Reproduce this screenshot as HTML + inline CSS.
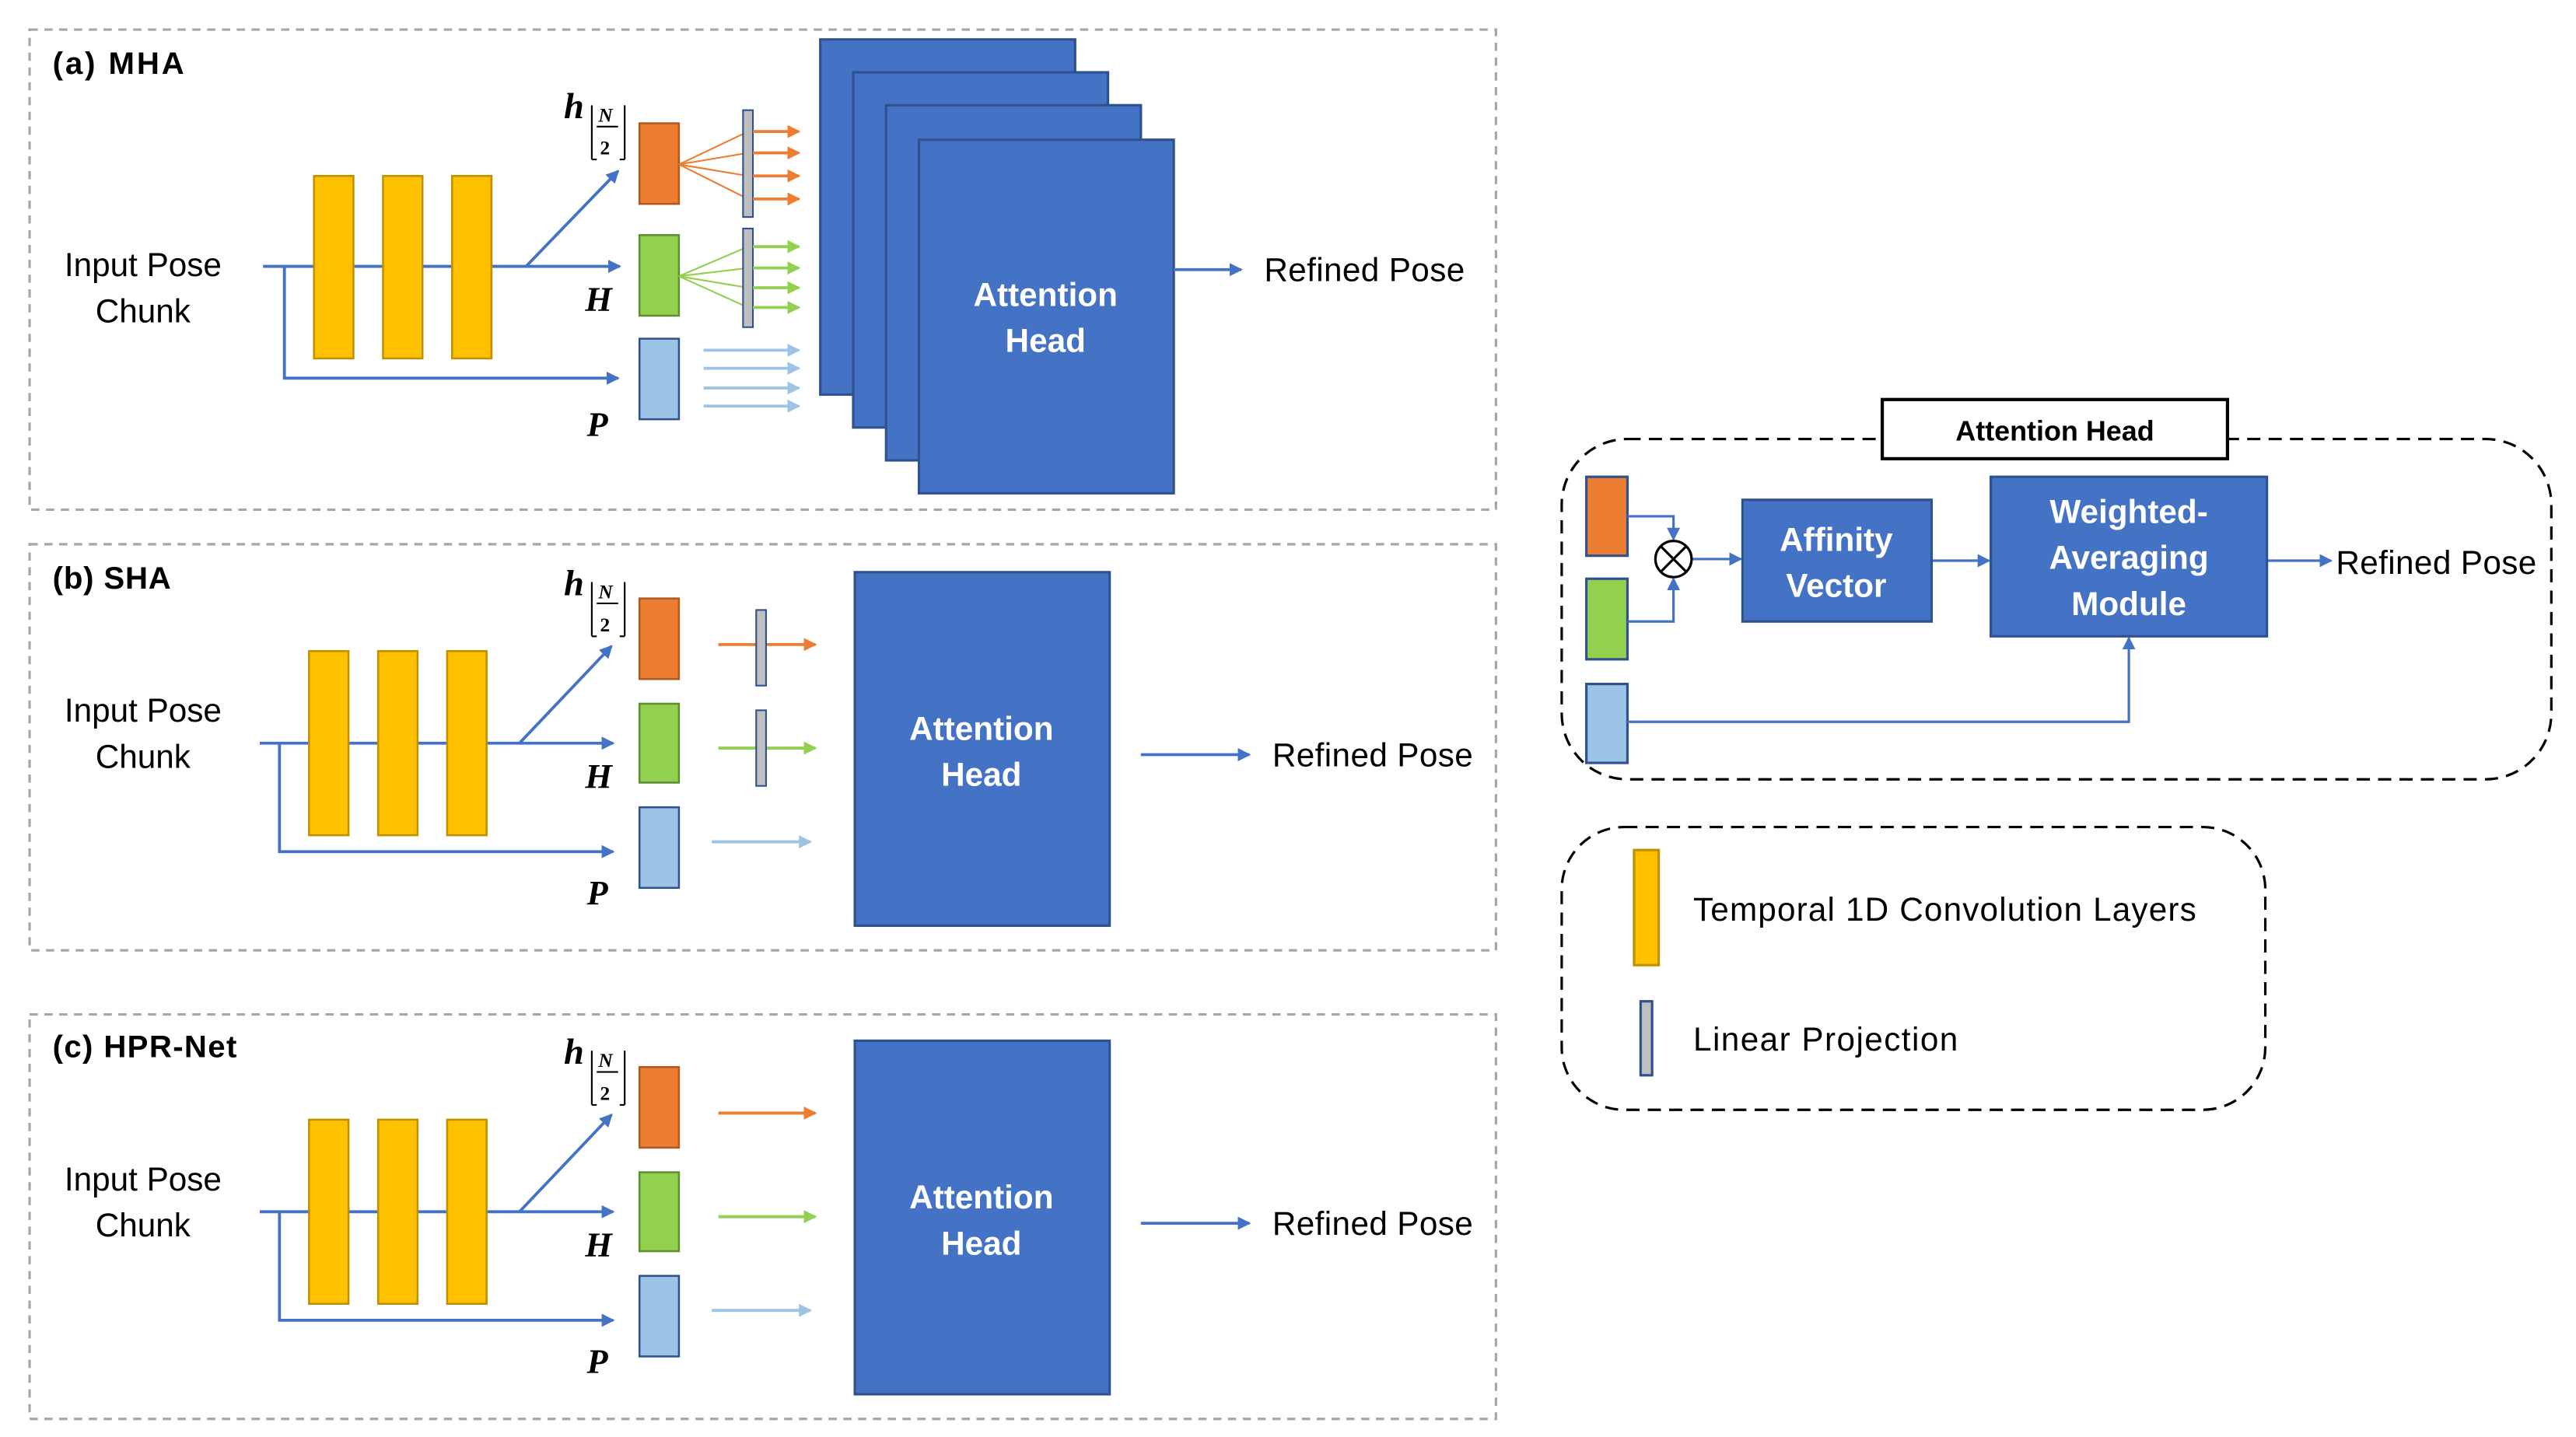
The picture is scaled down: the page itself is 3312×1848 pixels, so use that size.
<!DOCTYPE html>
<html><head><meta charset="utf-8"><style>
html,body{margin:0;padding:0;background:#fff;}
svg{display:block;}
text{font-family:"Liberation Sans",sans-serif;}
text.s{font-family:"Liberation Serif",serif;font-style:italic;font-weight:bold;}
</style></head><body>
<svg width="3312" height="1848" viewBox="0 0 1567 874" preserveAspectRatio="none" xmlns="http://www.w3.org/2000/svg">
<defs>
<marker id="ab" markerWidth="8" markerHeight="8" refX="7" refY="4" orient="auto" markerUnits="userSpaceOnUse"><path d="M0,0 L8,4 L0,8 z" fill="#4472C4"/></marker>
<marker id="ao" markerWidth="8" markerHeight="8" refX="7" refY="4" orient="auto" markerUnits="userSpaceOnUse"><path d="M0,0 L8,4 L0,8 z" fill="#ED7D31"/></marker>
<marker id="ag" markerWidth="8" markerHeight="8" refX="7" refY="4" orient="auto" markerUnits="userSpaceOnUse"><path d="M0,0 L8,4 L0,8 z" fill="#92D050"/></marker>
<marker id="al" markerWidth="8" markerHeight="8" refX="7" refY="4" orient="auto" markerUnits="userSpaceOnUse"><path d="M0,0 L8,4 L0,8 z" fill="#9DC3E6"/></marker>
</defs>

<g fill="none" stroke="#A6A6A6" stroke-width="1.5" stroke-dasharray="5,4">
<rect x="18" y="18" width="892" height="292"/>
<rect x="18" y="331" width="892" height="247"/>
<rect x="18" y="617" width="892" height="246"/>
</g>

<text x="32" y="45" font-size="19" font-weight="bold" textLength="80">(a) MHA</text>
<text x="87" y="168" font-size="20" text-anchor="middle">Input Pose</text>
<text x="87" y="196" font-size="20" text-anchor="middle">Chunk</text>
<g stroke="#4472C4" stroke-width="1.8" fill="none">
<line x1="160" y1="162" x2="377" y2="162" marker-end="url(#ab)"/>
<line x1="320" y1="162" x2="376" y2="104" marker-end="url(#ab)"/>
<polyline points="173,162 173,230 376,230" marker-end="url(#ab)"/>
</g>
<g fill="#FFC000" stroke="#BF9000" stroke-width="1.2">
<rect x="191" y="107" width="24" height="111"/><rect x="233" y="107" width="24" height="111"/><rect x="275" y="107" width="24" height="111"/>
</g>
<rect x="389" y="75" width="24" height="49" fill="#ED7D31" stroke="#AE5A21" stroke-width="1.2"/>
<rect x="389" y="143" width="24" height="49" fill="#92D050" stroke="#5E8E30" stroke-width="1.2"/>
<rect x="389" y="206" width="24" height="49" fill="#9DC3E6" stroke="#2F528F" stroke-width="1.2"/>
<g stroke="#ED7D31" stroke-width="1"><line x1="413" y1="100" x2="455" y2="80"/><line x1="413" y1="100" x2="455" y2="93"/><line x1="413" y1="100" x2="455" y2="107"/><line x1="413" y1="100" x2="455" y2="121"/></g>
<g stroke="#92D050" stroke-width="1"><line x1="413" y1="168" x2="455" y2="150"/><line x1="413" y1="168" x2="455" y2="163"/><line x1="413" y1="168" x2="455" y2="175"/><line x1="413" y1="168" x2="455" y2="187"/></g>
<rect x="452" y="67" width="6" height="65" fill="#BFBFBF" stroke="#2F528F" stroke-width="1"/>
<rect x="452" y="139" width="6" height="60" fill="#BFBFBF" stroke="#2F528F" stroke-width="1"/>
<g stroke="#ED7D31" stroke-width="1.8"><line x1="458" y1="80" x2="486" y2="80" marker-end="url(#ao)"/><line x1="458" y1="93" x2="486" y2="93" marker-end="url(#ao)"/><line x1="458" y1="107" x2="486" y2="107" marker-end="url(#ao)"/><line x1="458" y1="121" x2="486" y2="121" marker-end="url(#ao)"/></g>
<g stroke="#92D050" stroke-width="1.8"><line x1="458" y1="150" x2="486" y2="150" marker-end="url(#ag)"/><line x1="458" y1="163" x2="486" y2="163" marker-end="url(#ag)"/><line x1="458" y1="175" x2="486" y2="175" marker-end="url(#ag)"/><line x1="458" y1="187" x2="486" y2="187" marker-end="url(#ag)"/></g>
<g stroke="#9DC3E6" stroke-width="1.8"><line x1="428" y1="213" x2="486" y2="213" marker-end="url(#al)"/><line x1="428" y1="224" x2="486" y2="224" marker-end="url(#al)"/><line x1="428" y1="236" x2="486" y2="236" marker-end="url(#al)"/><line x1="428" y1="247" x2="486" y2="247" marker-end="url(#al)"/></g>
<g fill="#4472C4" stroke="#2F528F" stroke-width="1.5">
<rect x="499" y="24" width="155" height="216"/><rect x="519" y="44" width="155" height="216"/><rect x="539" y="64" width="155" height="216"/><rect x="559" y="85" width="155" height="215"/>
</g>
<text x="636" y="186" font-size="20" font-weight="bold" fill="#fff" text-anchor="middle">Attention</text>
<text x="636" y="214" font-size="20" font-weight="bold" fill="#fff" text-anchor="middle">Head</text>
<line x1="714" y1="164" x2="755" y2="164" stroke="#4472C4" stroke-width="1.8" marker-end="url(#ab)"/>
<text x="769" y="171" font-size="20" textLength="122">Refined Pose</text>
<text class="s" x="343" y="72" font-size="22">h</text>
<text class="s" x="364" y="74" font-size="12">N</text>
<line x1="363" y1="77" x2="376" y2="77" stroke="#000" stroke-width="1"/>
<text class="s" x="365" y="94" font-size="12" style="font-style:normal">2</text>
<path d="M360,64 V97 M380,64 V97 M360,97 h3 M380,97 h-3" stroke="#000" stroke-width="1" fill="none"/>
<text class="s" x="356" y="189" font-size="21">H</text>
<text class="s" x="357" y="265" font-size="21">P</text>

<text x="32" y="358" font-size="19" font-weight="bold" textLength="72">(b) SHA</text>
<text x="32" y="643" font-size="19" font-weight="bold" textLength="112">(c) HPR-Net</text>
<g id="pb">
<text x="87" y="439" font-size="20" text-anchor="middle">Input Pose</text>
<text x="87" y="467" font-size="20" text-anchor="middle">Chunk</text>
<g stroke="#4472C4" stroke-width="1.8" fill="none">
<line x1="158" y1="452" x2="373" y2="452" marker-end="url(#ab)"/>
<line x1="316" y1="452" x2="372" y2="393" marker-end="url(#ab)"/>
<polyline points="170,452 170,518 373,518" marker-end="url(#ab)"/>
</g>
<g fill="#FFC000" stroke="#BF9000" stroke-width="1.2">
<rect x="188" y="396" width="24" height="112"/><rect x="230" y="396" width="24" height="112"/><rect x="272" y="396" width="24" height="112"/>
</g>
<rect x="389" y="364" width="24" height="49" fill="#ED7D31" stroke="#AE5A21" stroke-width="1.2"/>
<rect x="389" y="428" width="24" height="48" fill="#92D050" stroke="#5E8E30" stroke-width="1.2"/>
<rect x="389" y="491" width="24" height="49" fill="#9DC3E6" stroke="#2F528F" stroke-width="1.2"/>
<line x1="433" y1="512" x2="493" y2="512" stroke="#9DC3E6" stroke-width="1.8" marker-end="url(#al)"/>
<rect x="520" y="348" width="155" height="215" fill="#4472C4" stroke="#2F528F" stroke-width="1.5"/>
<text x="597" y="450" font-size="20" font-weight="bold" fill="#fff" text-anchor="middle">Attention</text>
<text x="597" y="478" font-size="20" font-weight="bold" fill="#fff" text-anchor="middle">Head</text>
<line x1="694" y1="459" x2="760" y2="459" stroke="#4472C4" stroke-width="1.8" marker-end="url(#ab)"/>
<text x="774" y="466" font-size="20" textLength="122">Refined Pose</text>
<text class="s" x="343" y="362" font-size="22">h</text>
<text class="s" x="364" y="364" font-size="12">N</text>
<line x1="363" y1="367" x2="376" y2="367" stroke="#000" stroke-width="1"/>
<text class="s" x="365" y="384" font-size="12" style="font-style:normal">2</text>
<path d="M360,354 V387 M380,354 V387 M360,387 h3 M380,387 h-3" stroke="#000" stroke-width="1" fill="none"/>
<text class="s" x="356" y="479" font-size="21">H</text>
<text class="s" x="357" y="550" font-size="21">P</text>
</g>
<line x1="437" y1="392" x2="496" y2="392" stroke="#ED7D31" stroke-width="1.8" marker-end="url(#ao)"/>
<line x1="437" y1="455" x2="496" y2="455" stroke="#92D050" stroke-width="1.8" marker-end="url(#ag)"/>
<rect x="460" y="371" width="6" height="46" fill="#BFBFBF" stroke="#2F528F" stroke-width="1"/>
<rect x="460" y="432" width="6" height="46" fill="#BFBFBF" stroke="#2F528F" stroke-width="1"/>
<use href="#pb" transform="translate(0,285)"/>
<line x1="437" y1="677" x2="496" y2="677" stroke="#ED7D31" stroke-width="1.8" marker-end="url(#ao)"/>
<line x1="437" y1="740" x2="496" y2="740" stroke="#92D050" stroke-width="1.8" marker-end="url(#ag)"/>

<rect x="950" y="267" width="602" height="207" rx="40" fill="none" stroke="#000" stroke-width="1.5" stroke-dasharray="8,5"/>
<rect x="1145" y="243" width="210" height="36" fill="#fff" stroke="#000" stroke-width="2"/>
<text x="1250" y="268" font-size="17" font-weight="bold" text-anchor="middle">Attention Head</text>
<rect x="965" y="290" width="25" height="48" fill="#ED7D31" stroke="#2F528F" stroke-width="1.5"/>
<rect x="965" y="352" width="25" height="49" fill="#92D050" stroke="#2F528F" stroke-width="1.5"/>
<rect x="965" y="416" width="25" height="48" fill="#9DC3E6" stroke="#2F528F" stroke-width="1.5"/>
<g stroke="#4472C4" stroke-width="1.5" fill="none">
<polyline points="990,314 1018,314 1018,328" marker-end="url(#ab)"/>
<polyline points="990,378 1018,378 1018,352" marker-end="url(#ab)"/>
<line x1="1029" y1="340" x2="1059" y2="340" marker-end="url(#ab)"/>
<line x1="1175" y1="341" x2="1210" y2="341" marker-end="url(#ab)"/>
<line x1="1379" y1="341" x2="1418" y2="341" marker-end="url(#ab)"/>
<polyline points="990,439 1295,439 1295,388" marker-end="url(#ab)"/>
</g>
<circle cx="1018" cy="340" r="11" fill="#fff" stroke="#000" stroke-width="1.5"/>
<path d="M1010,332 L1026,348 M1026,332 L1010,348" stroke="#000" stroke-width="1.5"/>
<rect x="1060" y="304" width="115" height="74" fill="#4472C4" stroke="#2F528F" stroke-width="1.5"/>
<text x="1117" y="335" font-size="20" font-weight="bold" fill="#fff" text-anchor="middle">Affinity</text>
<text x="1117" y="363" font-size="20" font-weight="bold" fill="#fff" text-anchor="middle">Vector</text>
<rect x="1211" y="290" width="168" height="97" fill="#4472C4" stroke="#2F528F" stroke-width="1.5"/>
<text x="1295" y="318" font-size="20" font-weight="bold" fill="#fff" text-anchor="middle">Weighted-</text>
<text x="1295" y="346" font-size="20" font-weight="bold" fill="#fff" text-anchor="middle">Averaging</text>
<text x="1295" y="374" font-size="20" font-weight="bold" fill="#fff" text-anchor="middle">Module</text>
<text x="1421" y="349" font-size="20" textLength="122">Refined Pose</text>

<rect x="950" y="503" width="428" height="172" rx="38" fill="none" stroke="#000" stroke-width="1.5" stroke-dasharray="8,5"/>
<rect x="994" y="517" width="15" height="70" fill="#FFC000" stroke="#BF9000" stroke-width="1.5"/>
<text x="1030" y="560" font-size="20" textLength="306">Temporal 1D Convolution Layers</text>
<rect x="998" y="609" width="7" height="45" fill="#BFBFBF" stroke="#2F528F" stroke-width="1.5"/>
<text x="1030" y="639" font-size="20" textLength="161">Linear Projection</text>
</svg>
</body></html>
